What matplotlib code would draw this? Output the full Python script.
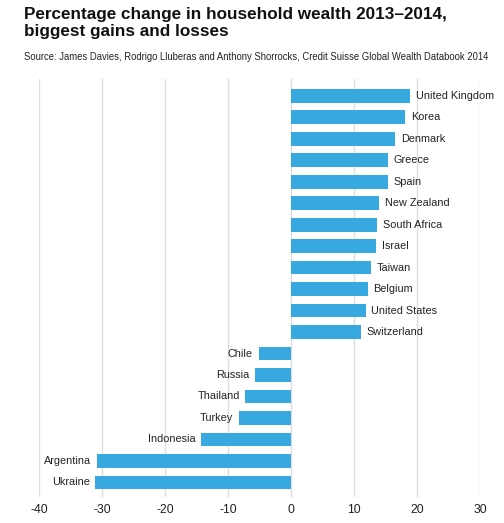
import matplotlib
matplotlib.use("Agg")
import matplotlib.pyplot as plt

countries = ["United Kingdom", "Korea", "Denmark", "Greece", "Spain", "New Zealand",
             "South Africa", "Israel", "Taiwan", "Belgium", "United States", "Switzerland",
             "Chile", "Russia", "Thailand", "Turkey", "Indonesia", "Argentina", "Ukraine"]
values = [18.9, 18.1, 16.5, 15.4, 15.3, 13.9, 13.6, 13.5, 12.6, 12.1, 11.8, 11.1,
          -5.2, -5.8, -7.3, -8.3, -14.3, -30.8, -31.1]
xticks = [-40, -30, -20, -10, 0, 10, 20, 30]

plt.rcParams['font.family'] = ['Liberation Sans', 'DejaVu Sans']

W, H = 504, 523
fig = plt.figure(figsize=(W / 100, H / 100), dpi=100)
left, right = 39.3, 480.3
top, bottom = 79, 497
ax = fig.add_axes([left / W, 1 - bottom / H, (right - left) / W, (bottom - top) / H])

pos = list(range(len(countries)))
ax.barh(pos, values, height=0.64, color='#38a9e0', zorder=2)
ax.set_xlim(-40, 30)
ax.set_ylim(18.68, -0.78)
ax.set_xticks(xticks)
ax.set_xticklabels([str(t) for t in xticks])
ax.set_yticks([])
ax.grid(axis='x', color='#dedede', linewidth=1, zorder=0)
for s in ax.spines.values():
    s.set_visible(False)
ax.tick_params(axis='x', length=0, pad=5, labelsize=8.8, labelcolor='#222222')

for p, v, c in zip(pos, values, countries):
    if v >= 0:
        ax.text(v + 0.9, p, c, ha='left', va='center', fontsize=7.8, color='#222222')
    else:
        ax.text(v - 0.9, p, c, ha='right', va='center', fontsize=7.8, color='#222222')

fig.text(24 / W, 1 - 7 / H, "Percentage change in household wealth 2013\u20132014,\nbiggest gains and losses",
         ha='left', va='top', fontsize=12.35, fontweight='bold', color='#111111', linespacing=1.18)
fig.text(24 / W, 1 - 57 / H,
         "Source: James Davies, Rodrigo Lluberas and Anthony Shorrocks, Credit Suisse Global Wealth Databook 2014",
         ha='left', va='center', fontsize=6.85, color='#222222')

fig.savefig("out.png", dpi=100)
